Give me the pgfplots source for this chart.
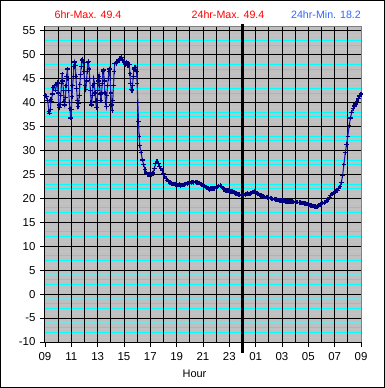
\documentclass[border=0pt]{standalone}
\usepackage{pgfplots}
\pgfplotsset{compat=1.18}
\usepackage{fontspec}
\setmainfont{Liberation Sans}
\definecolor{bggray}{RGB}{192,192,192}
\definecolor{brightcyan}{RGB}{0,255,255}
\definecolor{palecyan}{RGB}{120,228,232}
\definecolor{navyd}{RGB}{0,0,128}
\definecolor{linec}{RGB}{30,30,180}
\definecolor{titlered}{RGB}{255,0,0}
\definecolor{titleblue}{RGB}{51,102,255}
\definecolor{framegray}{RGB}{128,128,128}
\pgfplotstableread{
h v
0.0 41.5
0.1 41.3
0.2 40.5
0.3 38.2
0.35 37.8
0.4 38.5
0.45 40.6
0.5 40.3
0.55 41.8
0.6 43.2
0.7 43.5
0.8 42.6
0.9 43.9
0.95 44.2
1.0 42.0
1.05 39.5
1.1 38.9
1.15 39.6
1.2 41.5
1.25 44.0
1.3 46.0
1.35 44.5
1.4 42.5
1.45 40.3
1.5 39.5
1.55 41.0
1.6 43.5
1.65 45.5
1.7 47.0
1.75 45.0
1.8 42.5
1.85 40.0
1.9 38.7
1.95 36.8
2.0 38.5
2.05 41.2
2.1 43.5
2.15 45.5
2.2 47.5
2.25 48.5
2.3 47.8
2.35 45.5
2.4 43.0
2.45 40.5
2.5 39.2
2.55 39.8
2.6 41.5
2.65 43.8
2.7 45.8
2.75 47.5
2.8 48.8
2.85 49.0
2.9 48.5
2.95 46.5
3.0 45.0
3.05 43.5
3.1 42.8
3.15 44.5
3.2 46.5
3.25 48.3
3.3 48.6
3.35 47.0
3.4 45.0
3.45 42.5
3.5 40.0
3.55 39.5
3.6 41.5
3.65 43.5
3.7 45.0
3.75 44.0
3.8 42.0
3.85 40.3
3.9 39.0
3.95 40.5
4.0 42.5
4.05 44.5
4.1 45.5
4.15 43.5
4.2 41.8
4.25 40.5
4.3 42.0
4.35 44.0
4.4 46.5
4.45 46.8
4.5 44.5
4.55 42.0
4.6 40.0
4.65 39.2
4.7 41.5
4.75 43.5
4.8 45.0
4.85 46.5
4.9 47.0
4.95 45.0
5.0 42.0
5.05 39.5
5.1 38.3
5.15 40.5
5.2 43.5
5.25 46.5
5.3 48.1
5.4 48.2
5.5 48.5
5.6 48.9
5.7 49.2
5.8 49.4
5.9 48.9
6.0 48.3
6.1 48.0
6.2 48.5
6.3 47.8
6.4 47.9
6.45 46.0
6.5 44.0
6.55 42.8
6.6 42.5
6.65 43.5
6.7 45.5
6.75 47.0
6.8 47.3
6.85 46.8
6.9 47.4
6.95 46.5
7.0 44.0
7.05 40.0
7.1 36.0
7.15 33.0
7.2 31.0
7.3 29.5
7.4 28.0
7.5 27.0
7.6 26.0
7.7 25.3
7.8 25.0
7.9 25.0
8.0 25.1
8.1 24.9
8.2 25.3
8.3 26.2
8.4 27.2
8.5 27.7
8.6 27.3
8.7 26.6
8.8 26.3
8.9 25.8
9.0 25.1
9.1 24.6
9.2 24.1
9.3 23.8
9.4 23.5
9.5 23.3
9.6 23.1
9.7 23.0
9.8 23.0
9.9 22.9
10.0 22.9
10.1 22.8
10.2 22.9
10.3 22.7
10.4 22.8
10.5 22.8
10.6 22.9
10.7 23.0
10.8 23.1
10.9 23.2
11.0 23.3
11.1 23.3
11.2 23.4
11.3 23.3
11.4 23.4
11.5 23.3
11.6 23.3
11.7 23.2
11.8 23.0
11.9 22.9
12.0 22.8
12.1 22.6
12.2 22.4
12.3 22.2
12.4 22.0
12.5 21.9
12.6 22.0
12.7 22.1
12.8 22.0
12.9 22.1
13.0 22.2
13.1 22.4
13.2 22.6
13.3 22.7
13.4 22.5
13.5 22.2
13.6 21.9
13.7 21.7
13.8 21.6
13.9 21.6
14.0 21.5
14.1 21.4
14.2 21.4
14.3 21.3
14.4 21.2
14.5 21.0
14.6 20.9
14.7 20.8
14.8 20.8
14.9 20.7
15.0 20.7
15.1 20.8
15.2 20.8
15.3 20.9
15.4 21.0
15.5 20.9
15.6 21.0
15.7 21.1
15.8 21.3
15.9 21.4
16.0 21.3
16.1 21.1
16.2 20.9
16.3 20.7
16.4 20.6
16.5 20.5
16.6 20.4
16.7 20.3
16.8 20.3
16.9 20.2
17.0 20.2
17.1 20.1
17.2 20.0
17.3 19.9
17.4 19.9
17.5 19.8
17.6 19.8
17.7 19.7
17.8 19.6
17.9 19.6
18.0 19.5
18.1 19.5
18.2 19.5
18.3 19.4
18.4 19.4
18.5 19.3
18.6 19.3
18.7 19.3
18.8 19.3
18.9 19.2
19.0 19.2
19.1 19.2
19.2 19.2
19.3 19.1
19.4 19.1
19.5 19.0
19.6 19.0
19.7 18.9
19.8 18.9
19.9 18.8
20.0 18.7
20.1 18.6
20.2 18.5
20.3 18.4
20.4 18.4
20.5 18.3
20.6 18.2
20.7 18.3
20.8 18.5
20.9 18.7
21.0 18.9
21.1 19.0
21.2 19.0
21.3 19.2
21.4 19.5
21.5 19.8
21.6 20.2
21.7 20.6
21.8 20.9
21.9 21.1
22.0 21.3
22.1 21.5
22.2 21.7
22.3 22.0
22.4 22.4
22.5 23.3
22.6 24.7
22.7 27.0
22.8 29.5
22.9 31.2
23.0 33.0
23.1 35.2
23.2 36.8
23.3 38.0
23.4 38.7
23.5 39.3
23.6 39.7
23.7 40.3
23.8 40.9
23.9 41.4
24.0 41.8
}\temps
\begin{document}
\begin{tikzpicture}
\path (0bp,0bp) rectangle (385bp,388bp);
\draw[line width=1bp] (0.5bp,0.5bp) rectangle (384.5bp,387.5bp);
\node[text=titlered, font=\fontsize{10.7}{12}\selectfont] at (88bp,373bp) {6hr-Max. 49.4};
\node[text=titlered, font=\fontsize{10.7}{12}\selectfont] at (228bp,373bp) {24hr-Max. 49.4};
\node[text=titleblue, font=\fontsize{10.7}{12}\selectfont] at (326bp,373bp) {24hr-Min. 18.2};
\node[font=\fontsize{11}{13}\selectfont] at (194.5bp,14bp) {Hour};
% underlying axis: background and pale minor lines
\begin{axis}[
  at={(45bp,46bp)}, anchor=south west,
  scale only axis, width=316bp, height=316bp,
  xmin=0, xmax=24, ymin=-10, ymax=56,
  axis background/.style={fill=bggray},
  axis line style={draw=none},
  xtick=\empty,
  ytick={-9,-6,-4,-1,1,4,6,9,11,14,16,19,21,24,26,29,31,34,36,39,41,44,46,49,51,54},
  yticklabels={},
  major tick length=0pt,
  ymajorgrids=true,
  major grid style={palecyan, line width=1bp},
]
\end{axis}
\begin{axis}[
  at={(45bp,46bp)}, anchor=south west,
  scale only axis, width=316bp, height=316bp,
  xmin=0, xmax=24, ymin=-10, ymax=56,
  clip=false,
  axis line style={draw=none},
  xtick={0,2,...,24},
  xticklabels={09,11,13,15,17,19,21,23,01,03,05,07,09},
  ytick={-10,-5,...,55},
  minor ytick={-8,-7,-3,-2,2,3,7,8,12,13,17,18,22,23,27,28,32,33,37,38,42,43,47,48,52,53},
  ymajorgrids=true, yminorgrids=true,
  major grid style={black, line width=0.9bp},
  minor y grid style={brightcyan, line width=1bp},
  minor tick length=0pt,
  major tick length=5bp,
  tick align=outside,
  xtick pos=bottom, ytick pos=left,
  tick style={black, line width=0.9bp},
  /pgf/number format/assume math mode=true,
  ticklabel style={font=\fontsize{11.5}{13}\selectfont},
  xticklabel style={yshift=-2bp},
  yticklabel style={xshift=-1bp},
]
\draw[black, line width=0.9bp]
  (axis cs:1,-10) -- (axis cs:1,56) (axis cs:2,-10) -- (axis cs:2,56)
  (axis cs:3,-10) -- (axis cs:3,56) (axis cs:4,-10) -- (axis cs:4,56)
  (axis cs:5,-10) -- (axis cs:5,56) (axis cs:6,-10) -- (axis cs:6,56)
  (axis cs:7,-10) -- (axis cs:7,56) (axis cs:8,-10) -- (axis cs:8,56)
  (axis cs:9,-10) -- (axis cs:9,56) (axis cs:10,-10) -- (axis cs:10,56)
  (axis cs:11,-10) -- (axis cs:11,56) (axis cs:12,-10) -- (axis cs:12,56)
  (axis cs:13,-10) -- (axis cs:13,56) (axis cs:14,-10) -- (axis cs:14,56)
  (axis cs:16,-10) -- (axis cs:16,56)
  (axis cs:17,-10) -- (axis cs:17,56) (axis cs:18,-10) -- (axis cs:18,56)
  (axis cs:19,-10) -- (axis cs:19,56) (axis cs:20,-10) -- (axis cs:20,56)
  (axis cs:21,-10) -- (axis cs:21,56) (axis cs:22,-10) -- (axis cs:22,56)
  (axis cs:23,-10) -- (axis cs:23,56);
\draw[framegray, line width=1bp] (rel axis cs:0,1) -- (rel axis cs:1,1) -- (rel axis cs:1,0);
\draw[black, line width=1bp] (rel axis cs:0,1) -- (rel axis cs:0,0) -- (rel axis cs:1,0);
\draw[black, line width=2.5bp] (axis cs:15,-12.3) -- (axis cs:15,56.4);
\addplot[color=linec, line width=1.1bp, mark=+, mark size=2.3bp, mark options={navyd, line width=1.2bp}] table[x=h, y=v] {\temps};
\end{axis}
\end{tikzpicture}
\end{document}
